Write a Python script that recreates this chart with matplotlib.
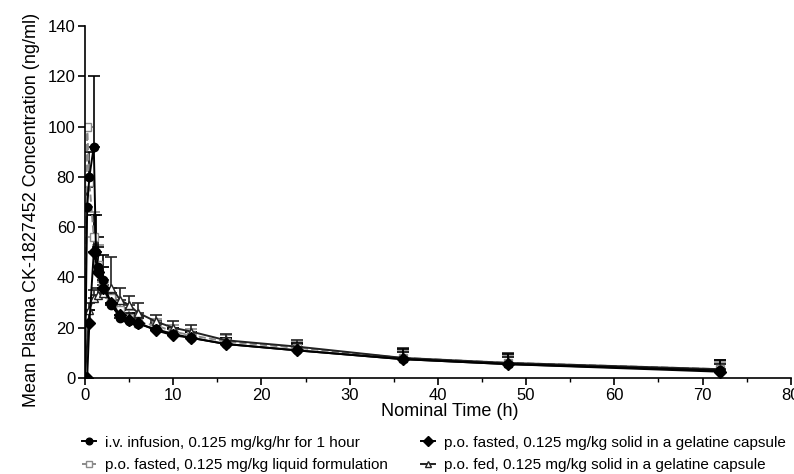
import matplotlib.pyplot as plt
from matplotlib.ticker import MultipleLocator

plt.rcParams['font.family'] = ['Liberation Sans', 'DejaVu Sans']

# i.v. infusion, 0.125 mg/kg/hr for 1 hour
iv_t = [0, 0.25, 0.5, 1, 1.25, 1.5, 2, 3, 4, 5, 6, 8, 10, 12, 16, 24, 36, 48, 72]
iv_c = [0, 68, 80, 92, 50, 44, 39, 29, 24, 22.5, 21.5, 19.5, 17.5, 16, 13.5, 11, 7.5, 5.5, 3]
iv_e = [0, 8, 10, 28, 15, 12, 10, 4, 3, 3, 2.5, 2.5, 2.5, 2.5, 2.5, 3, 4, 4, 4]

# p.o. fasted, liquid formulation
liq_t = [0, 0.25, 0.5, 1, 1.5, 2, 3, 4, 5, 6, 8, 10, 12, 16, 24, 36, 48, 72]
liq_c = [0, 100, 78, 56, 45, 38, 32, 27, 24, 22, 21, 18.5, 17, 14.5, 12, 8, 6, 3.5]
liq_e = [0, 0, 0, 10, 8, 6, 4, 3, 3, 3, 2.5, 2.5, 2.5, 2.5, 2.5, 3, 3, 3]

# p.o. fasted, solid in gelatine capsule
sol_t = [0, 0.25, 0.5, 1, 1.5, 2, 3, 4, 5, 6, 8, 10, 12, 16, 24, 36, 48, 72]
sol_c = [0, 0, 22, 50, 42, 36, 30, 25, 23, 22, 19, 17, 16, 13.5, 11, 7.5, 5.5, 2.5]
sol_e = [0, 0, 5, 15, 10, 8, 4, 3, 3, 2.5, 2.5, 2.5, 2.5, 2.5, 2.5, 3, 3, 3]

# p.o. fed, solid in gelatine capsule
fed_t = [0, 0.5, 1, 1.5, 2, 3, 4, 5, 6, 8, 10, 12, 16, 24, 36, 48, 72]
fed_c = [0, 27, 32, 33, 34, 36, 31, 29, 26, 22.5, 20, 18.5, 15, 12.5, 8, 6, 3.5]
fed_e = [0, 3, 3, 3, 3, 12, 5, 3.5, 4, 2.5, 2.5, 2.5, 2.5, 2.5, 4, 4, 3.5]

labels = ["i.v. infusion, 0.125 mg/kg/hr for 1 hour",
          "p.o. fasted, 0.125 mg/kg liquid formulation",
          "p.o. fasted, 0.125 mg/kg solid in a gelatine capsule",
          "p.o. fed, 0.125 mg/kg solid in a gelatine capsule"]

fig = plt.figure(figsize=(7.94, 4.74), dpi=100)
ax = fig.add_axes([0.107, 0.2025, 0.889, 0.7426])

def draw(t, c, e, marker, color, ls, mfc, label):
    h = ax.errorbar(t, c, yerr=[[0] * len(e), e], fmt=marker, color=color, ls=ls,
                    lw=1.4, ms=6, mfc=mfc, mec=color, ecolor=color, elinewidth=1.2,
                    capsize=4, capthick=1.2, label=label)
    return h

h2 = draw(liq_t, liq_c, liq_e, 's', '#8a8a8a', '--', 'white', labels[1])
h4 = draw(fed_t, fed_c, fed_e, '^', '#222222', '-', 'white', labels[3])
h3 = draw(sol_t, sol_c, sol_e, 'D', 'black', '-', 'black', labels[2])
h1 = draw(iv_t, iv_c, iv_e, 'o', 'black', '-', 'black', labels[0])

ax.set_xlim(0, 80)
ax.set_ylim(0, 140)
ax.xaxis.set_major_locator(MultipleLocator(10))
ax.xaxis.set_minor_locator(MultipleLocator(5))
ax.yaxis.set_major_locator(MultipleLocator(20))
for s in ['top', 'right']:
    ax.spines[s].set_visible(False)
for s in ['left', 'bottom']:
    ax.spines[s].set_linewidth(1.2)
ax.tick_params(which='major', length=5, width=1.2, labelsize=12, pad=2)
ax.tick_params(which='minor', length=3, width=1)
ax.set_xlabel("Nominal Time (h)", fontsize=13)
ax.xaxis.set_label_coords(0.517, -0.071)
ax.xaxis.label.set_va('top')
ax.set_ylabel("Mean Plasma CK-1827452 Concentration (ng/ml)", fontsize=13)
ax.yaxis.set_label_coords(-0.064, 0.477)
for lab in ax.get_xticklabels() + ax.get_yticklabels():
    lab.set_clip_on(False)

fig.legend([h1[0], h2[0], h3[0], h4[0]], labels, ncol=2, loc='upper left',
           bbox_to_anchor=(0.086, 0.11), frameon=False, fontsize=11,
           handlelength=0.9, handletextpad=0.6, columnspacing=2.2, labelspacing=0.55,
           markerscale=0.8)

fig.savefig("out.png", dpi=100)
